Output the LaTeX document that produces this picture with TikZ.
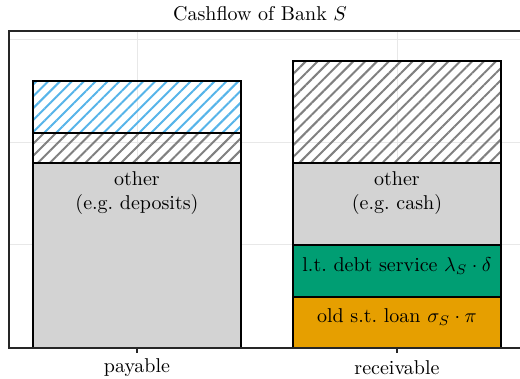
\documentclass[tikz,border=0pt]{standalone}
\usepackage{amsmath}
\usepackage{xcolor}
\usetikzlibrary{patterns.meta}
\definecolor{skyblue}{RGB}{86,180,233}
\definecolor{debtgreen}{RGB}{0,158,115}
\definecolor{loanorange}{RGB}{230,159,0}
\definecolor{otherfill}{RGB}{211,211,211}

\begin{document}
\begin{tikzpicture}[x=0.5pt,y=0.5pt,
	seg/.style={draw=black,line width=0.6pt},
	hatch/.style={seg,pattern={Lines[angle=45,distance=4.2pt,line width=1pt]},pattern color=#1},
	gridline/.style={draw=black!9,line width=0.5pt},
	axisline/.style={draw=black!85,line width=0.6pt}]
		\useasboundingbox (0,0) rectangle (520,379);
		%
		% grid
		\foreach \y in {339,236,134}
			\draw[gridline] (9,\y) -- (520,\y);
		\foreach \x in {137,397}
			\draw[gridline] (\x,31) -- (\x,348);
		%
		% payable
		\draw[seg,fill=otherfill] (33,31) rectangle (241,216);
		\draw[hatch=gray] (33,216) rectangle (241,246);
		\draw[hatch=skyblue] (33,246) rectangle (241,298);
		%
		% receivable
		\draw[seg,fill=loanorange] (293,31) rectangle (501,82);
		\draw[seg,fill=debtgreen] (293,82) rectangle (501,134);
		\draw[seg,fill=otherfill] (293,134) rectangle (501,216);
		\draw[hatch=gray] (293,216) rectangle (501,318);
		%
		% axes
		\draw[axisline] (520,348) -- (9,348) -- (9,31) -- (520,31);
		\foreach \x in {137,397}
			\draw[axisline] (\x,31) -- (\x,26);
		%
		\node (title) at (260,365) {Cashflow of Bank $S$};
		\node (payable) at (137,11) {payable};
		\node (receivable) at (397,11) {receivable};
		\node[align=center] (deposits) at (137,186) {other\\(e.g.\ deposits)};
		\node[align=center] (cash) at (397,186) {other\\(e.g.\ cash)};
		\node (debt) at (397,113) {l.t.\ debt service $\lambda_S\cdot\delta$};
		\node (loan) at (397,62) {old s.t.\ loan $\sigma_S\cdot\pi$};
\end{tikzpicture}
\end{document}
